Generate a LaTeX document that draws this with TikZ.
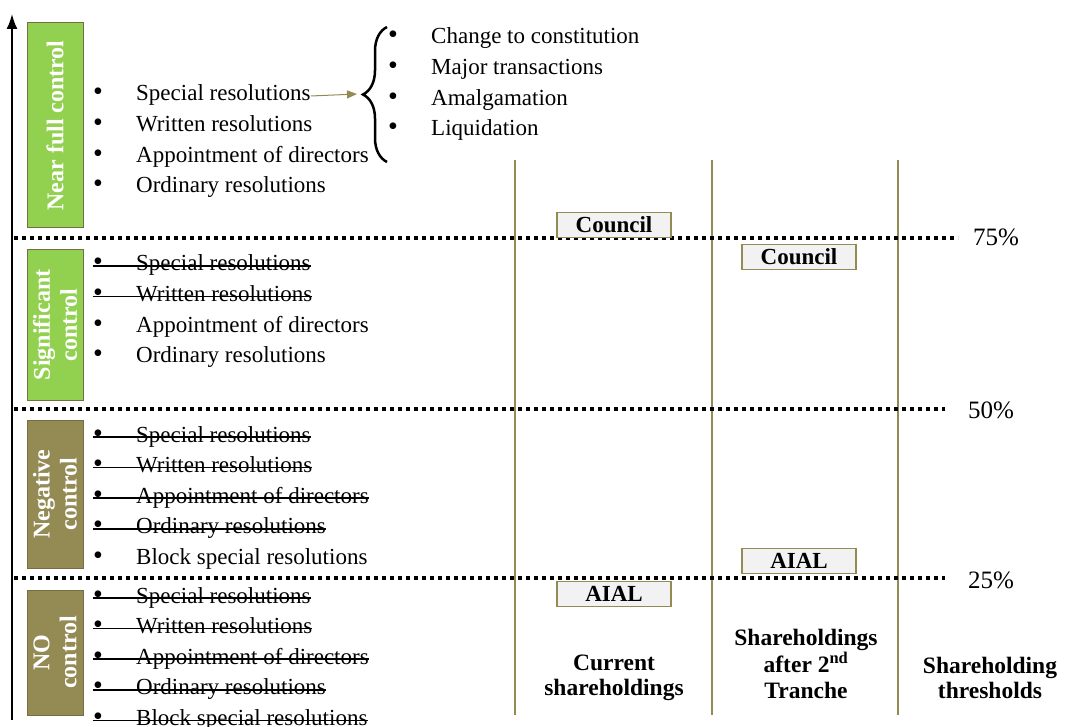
\documentclass[tikz,border=0pt]{standalone}
\usepackage{fontspec}
\setmainfont{Liberation Serif}
\usetikzlibrary{arrows.meta,decorations.pathreplacing}

\definecolor{ctan}{HTML}{948A54}
\definecolor{cgreen}{HTML}{92D050}
\definecolor{cbox}{HTML}{F2F2F2}

\tikzset{
  item/.style={anchor=west, inner sep=0pt, text height=15pt, text depth=5pt, font=\fontsize{23}{25}\selectfont},
  dot/.style={inner sep=0pt, text height=15pt, text depth=5pt, font=\fontsize{28}{28}\selectfont},
  strike/.style={line width=1.6pt},
  lvlbox/.style={draw=ctan!80!black, line width=1pt, rotate=90, minimum height=56pt, text=white,
    align=center, inner sep=0pt, font=\bfseries\fontsize{24}{27}\selectfont},
  tagbox/.style={draw=ctan, fill=cbox, line width=1.2pt, minimum width=114pt, minimum height=25pt,
    inner sep=0pt, font=\bfseries\fontsize{23}{24}\selectfont},
  thr/.style={line width=3.5pt, dash pattern=on 4pt off 4pt},
  col/.style={ctan, line width=1.6pt},
  head/.style={align=center, font=\bfseries\fontsize{23.5}{25.5}\selectfont},
  pct/.style={font=\fontsize{25}{27}\selectfont}
}

\begin{document}
\begin{tikzpicture}[x=1pt,y=-1pt]
  \useasboundingbox (0,0) rectangle (1068,727);

  % columns
  \draw[col] (515,160) -- (515,715);
  \draw[col] (712,160) -- (712,715);
  \draw[col] (898,160) -- (898,715);

  % thresholds
  \draw[thr] (14,238) -- (958,238);
  \draw[thr] (14,409) -- (945,409);
  \draw[thr] (14,578) -- (945,578);
  \node[pct] (p75) at (996,237) {75\%};
  \node[pct] (p50) at (991,410) {50\%};
  \node[pct] (p25) at (991,580) {25\%};

  % axis
  \draw[-{Latex[length=15pt,width=11pt]}, line width=2pt] (12,720) -- (12,14);

  % level boxes
  \node[lvlbox, fill=cgreen, minimum width=205pt] (near) at (55,125.5) {Near full control};
  \node[lvlbox, fill=cgreen, minimum width=150pt] (sig) at (55,325) {Significant\\control};
  \node[lvlbox, fill=ctan, minimum width=148pt] (neg) at (55,494) {Negative\\control};
  \node[lvlbox, fill=ctan, minimum width=125pt] (none) at (55,652.5) {NO\\control};

  % Near full control
  \foreach \t [count=\i] in {Special resolutions, Written resolutions, Appointment of directors, Ordinary resolutions} {
    \node[dot] (nfb\i) at (98,96+30.6*\i-30.6) {\textbullet};
    \node[item] (nf\i) at (136,96+30.6*\i-30.6) {\t};
  }

  % Significant control
  \foreach \t [count=\i] in {Special resolutions, Written resolutions, Appointment of directors, Ordinary resolutions} {
    \node[dot] (sgb\i) at (98,266+30.6*\i-30.6) {\textbullet};
    \node[item] (sg\i) at (136,266+30.6*\i-30.6) {\t};
  }
  \foreach \i in {1,2}
    \draw[strike] (sgb\i.west) -- (sg\i.east);

  % Negative control
  \foreach \t [count=\i] in {Special resolutions, Written resolutions, Appointment of directors, Ordinary resolutions, Block special resolutions} {
    \node[dot] (ngb\i) at (98,437+30.6*\i-30.6) {\textbullet};
    \node[item] (ng\i) at (136,437+30.6*\i-30.6) {\t};
  }
  \foreach \i in {1,...,4}
    \draw[strike] (ngb\i.west) -- (ng\i.east);

  % No control
  \foreach \t [count=\i] in {Special resolutions, Written resolutions, Appointment of directors, Ordinary resolutions, Block special resolutions} {
    \node[dot] (ncb\i) at (98,598+30.6*\i-30.6) {\textbullet};
    \node[item] (nc\i) at (136,598+30.6*\i-30.6) {\t};
  }
  \foreach \i in {1,...,5}
    \draw[strike] (ncb\i.west) -- (nc\i.east);

  % special resolutions detail
  \coordinate (brb) at (387,162);
  \coordinate (brt) at (387,27);
  \coordinate (brtip) at (357,94);
  \draw[decorate, decoration={brace, amplitude=24pt}, line width=2.5pt] (brb) -- (brt);
  \draw[ctan, line width=1pt, -{Triangle[length=10pt,width=8pt]}] (nf1.east) -- (brtip);
  \foreach \t [count=\i] in {Change to constitution, Major transactions, Amalgamation, Liquidation} {
    \node[dot] (spb\i) at (393,39+30.6*\i-30.6) {\textbullet};
    \node[item] (sp\i) at (431,39+30.6*\i-30.6) {\t};
  }

  % holdings
  \node[tagbox] (cou1) at (614,225) {Council};
  \node[tagbox] (cou2) at (799,257) {Council};
  \node[tagbox] (aial1) at (614,594) {AIAL};
  \node[tagbox] (aial2) at (799,561) {AIAL};

  % column heads
  \node[head] (hcur) at (614,678) {Current\\shareholdings};
  \node[head] (htr) at (806,664) {Shareholdings\\after 2\textsuperscript{nd}\\Tranche};
  \node[head] (hthr) at (990,678) {Shareholding\\thresholds};
\end{tikzpicture}
\end{document}
